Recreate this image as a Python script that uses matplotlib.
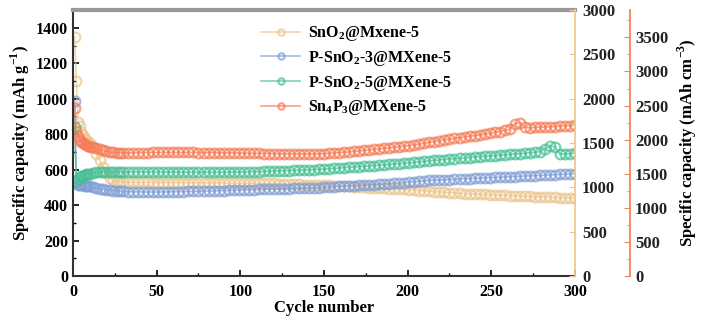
import matplotlib
matplotlib.use('Agg')
import matplotlib.pyplot as plt
from matplotlib.ticker import MultipleLocator

plt.rcParams['font.family'] = ['Liberation Serif', 'DejaVu Serif']
plt.rcParams['font.weight'] = 'bold'
plt.rcParams['mathtext.fontset'] = 'custom'
plt.rcParams['mathtext.rm'] = 'Liberation Serif:bold'
plt.rcParams['mathtext.bf'] = 'Liberation Serif:bold'

# cycle numbers: every cycle early, then every 3rd
cycles = list(range(1, 11)) + list(range(12, 31, 2)) + list(range(33, 301, 3))

sno2 = [1350, 1100, 870, 845, 810, 795, 780, 768, 757, 748,
        726, 690, 652, 614, 580, 552, 540, 535, 532, 530,
        529, 529, 528, 528, 528, 527, 527, 527, 527, 527,
        526, 526, 526, 526, 526, 525, 525, 525, 525, 525,
        524, 524, 524, 523, 523, 523, 523, 522, 522, 522,
        521, 520, 519, 518, 517, 516, 515, 514, 513, 512,
        511, 509, 508, 507, 505, 504, 502, 501, 499, 497,
        496, 494, 493, 491, 489, 488, 486, 484, 482, 480,
        478, 476, 474, 472, 471, 469, 467, 465, 464, 462,
        461, 460, 458, 457, 456, 455, 454, 452, 451, 450,
        449, 448, 447, 446, 444, 443, 442, 441, 440, 439]

psno2_3 = [990, 525, 515, 513, 512, 511, 509, 507, 506, 505,
           500, 496, 492, 489, 486, 484, 482, 480, 478, 477,
           476, 475, 475, 474, 474, 474, 474, 474, 475, 475,
           476, 476, 477, 477, 478, 479, 479, 480, 481, 482,
           483, 484, 485, 486, 486, 487, 488, 489, 490, 490,
           491, 492, 493, 494, 495, 496, 497, 498, 499, 500,
           502, 503, 505, 506, 508, 509, 511, 512, 514, 516,
           517, 519, 521, 523, 525, 527, 529, 532, 534, 537,
           540, 541, 542, 543, 544, 545, 547, 550, 549, 551,
           552, 554, 555, 556, 557, 558, 560, 561, 562, 564,
           565, 566, 567, 569, 570, 571, 573, 574, 576, 578]

psno2_5 = [840, 535, 545, 557, 562, 566, 570, 573, 576, 578,
           582, 584, 585, 586, 587, 587, 587, 587, 587, 587,
           587, 588, 587, 587, 587, 586, 586, 586, 586, 586,
           585, 585, 585, 585, 585, 585, 585, 585, 585, 585,
           585, 586, 586, 587, 587, 588, 589, 590, 591, 592,
           593, 594, 595, 596, 597, 598, 599, 600, 602, 603,
           605, 607, 609, 611, 613, 615, 617, 619, 621, 623,
           625, 627, 629, 632, 634, 636, 638, 641, 644, 647,
           650, 652, 655, 657, 660, 662, 664, 666, 668, 671,
           673, 675, 677, 679, 681, 684, 686, 688, 690, 692,
           695, 698, 702, 715, 735, 728, 688, 687, 690, 694]

sn4p3 = [950, 820, 790, 768, 756, 748, 742, 738, 734, 730,
         726, 720, 714, 708, 703, 699, 697, 696, 695, 695,
         695, 695, 696, 696, 696, 697, 697, 697, 697, 697,
         697, 697, 697, 697, 696, 696, 696, 696, 695, 695,
         695, 694, 694, 693, 693, 692, 692, 691, 691, 690,
         690, 689, 689, 688, 688, 688, 688, 688, 689, 690,
         692, 694, 696, 698, 700, 703, 705, 708, 711, 714,
         717, 720, 723, 726, 729, 732, 736, 740, 744, 749,
         754, 758, 763, 767, 772, 776, 780, 784, 788, 792,
         796, 800, 805, 810, 815, 822, 828, 860, 865, 838,
         836, 838, 840, 841, 842, 843, 845, 847, 849, 851]

series = [
    (sno2, '#EBC48C', r'SnO$_\mathbf{2}$@Mxene-5'),
    (psno2_3, '#7F9DD4', r'P-SnO$_\mathbf{2}$-3@MXene-5'),
    (psno2_5, '#45BF92', r'P-SnO$_\mathbf{2}$-5@MXene-5'),
    (sn4p3, '#F57A55', r'Sn$_\mathbf{4}$P$_\mathbf{3}$@MXene-5'),
]

tan_color = '#F0C88E'
red_color = '#F5805C'

fig = plt.figure(figsize=(7.06, 3.26), dpi=100)
ax = fig.add_axes([0.1034, 0.1534, 0.711, 0.8156])

for vals, color, label in series:
    ax.plot(cycles, vals, color=color, lw=1.2, marker='o', ms=7,
            mfc='none', mec=color, mew=1.6, alpha=0.7, label=label)

ax.set_xlim(0, 300)
ax.set_ylim(0, 1500)
ax.xaxis.set_major_locator(MultipleLocator(50))
ax.xaxis.set_minor_locator(MultipleLocator(25))
ax.yaxis.set_major_locator(MultipleLocator(200))
ax.yaxis.set_minor_locator(MultipleLocator(100))
ax.tick_params(which='both', direction='in', top=False, right=False,
               labelsize=11.5)
ax.tick_params(axis='x', pad=6)
ax.tick_params(which='major', length=4, width=1.2)
ax.tick_params(which='minor', length=2.5, width=1)
ax.set_xlabel('Cycle number', fontsize=12, fontweight='bold', labelpad=0)
ax.set_ylabel(r'Specific capacity (mAh g$^\mathbf{-1}$)', fontsize=12,
              fontweight='bold', labelpad=3)
for s in ['left', 'bottom']:
    ax.spines[s].set_color('#333333')
    ax.spines[s].set_linewidth(1.5)
ax.spines['top'].set_color('#999999')
ax.spines['top'].set_linewidth(3)
ax.spines['right'].set_visible(False)

# first right axis (tan)
ax1 = ax.twinx()
ax1.set_ylim(0, 3000)
ax1.yaxis.set_major_locator(MultipleLocator(500))
ax1.yaxis.set_minor_locator(MultipleLocator(250))
for s in ['left', 'top', 'bottom']:
    ax1.spines[s].set_visible(False)
ax1.spines['right'].set_color(tan_color)
ax1.spines['right'].set_linewidth(1.3)
ax1.tick_params(which='both', direction='in', colors=tan_color,
                labelcolor='#222222', labelsize=12, pad=5)
ax1.tick_params(which='major', length=4)
ax1.tick_params(which='minor', length=0)

# second right axis (red)
ax2 = ax.twinx()
ax2.spines['right'].set_position(('axes', 1.11))
ax2.set_ylim(0, 3900)
ax2.yaxis.set_major_locator(MultipleLocator(500))
ax2.yaxis.set_minor_locator(MultipleLocator(250))
for s in ['left', 'top', 'bottom']:
    ax2.spines[s].set_visible(False)
ax2.spines['right'].set_color(red_color)
ax2.spines['right'].set_linewidth(1.3)
ax2.tick_params(which='both', direction='in', colors=red_color,
                labelcolor='#222222', labelsize=12)
ax2.tick_params(which='major', length=4)
ax2.tick_params(which='minor', length=2.5)
ax2.set_ylabel(r'Specific capacity (mAh cm$^\mathbf{-3}$)', fontsize=12,
               fontweight='bold', labelpad=5)

ax.legend(loc='upper center', bbox_to_anchor=(0.565, 1.0), frameon=False,
          fontsize=11.5, handlelength=2.4, labelspacing=0.35,
          handletextpad=0.5, borderaxespad=0.5, markerscale=0.65)

fig.savefig('out.png', dpi=100)
